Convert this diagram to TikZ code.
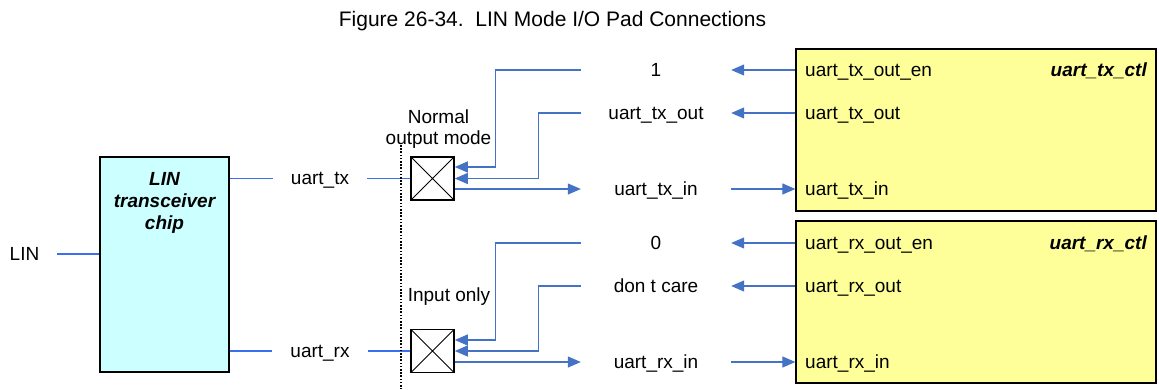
\documentclass[tikz,border=0pt]{standalone}
\usepackage{fontspec}
\setmainfont{Liberation Sans}
\usetikzlibrary{arrows.meta,calc}
\definecolor{sigblue}{HTML}{4472C4}
\definecolor{linkblue}{HTML}{3A6FF0}
\definecolor{chipcyan}{HTML}{CCFFFF}
\definecolor{ctlyellow}{HTML}{FFFF99}
\begin{document}
\begin{tikzpicture}[x=1pt,y=-1pt,
  txt/.style={font=\fontsize{19}{22}\selectfont, inner sep=0pt, text height=12pt, text depth=0pt},
  bitxt/.style={txt, font=\bfseries\itshape\fontsize{19}{22}\selectfont},
  sig/.style={draw=sigblue, line width=1.2pt},
  sigarrow/.style={sig, -{Triangle[length=13pt,width=11pt]}},
  link/.style={draw=linkblue, line width=1.2pt},
  chipbox/.style={draw=black, line width=1.3pt, fill=chipcyan, minimum width=129pt, minimum height=215pt, inner sep=0pt},
  ctlbox/.style={draw=black, line width=1.3pt, fill=ctlyellow, minimum width=360pt, minimum height=162pt, inner sep=0pt},
  padbox/.style={draw=black, line width=1.6pt, fill=white, minimum size=43pt, inner sep=0pt,
    path picture={\draw[line width=0.9pt] (path picture bounding box.north west) -- (path picture bounding box.south east)
      (path picture bounding box.north east) -- (path picture bounding box.south west);}},
  midlbl/.style={txt, minimum width=150pt},
  wirelbl/.style={txt, outer xsep=18pt},
  divider/.style={draw=black, line width=2pt, dash pattern=on 1.6pt off 1.6pt},
]
\useasboundingbox (0,0) rectangle (1159,389);

% title
\node[txt, font=\fontsize{21}{24}\selectfont, text height=14pt] (title) at (552.5,19) {Figure 26-34.\ \ LIN Mode I/O Pad Connections};

% LIN chip
\node[chipbox] (chip) at (164.5,264.5) {};
\node[font=\bfseries\itshape\fontsize{19}{22}\selectfont, inner sep=0pt, align=center] (chiplbl) at (164.5,202.5) {LIN\\transceiver\\chip};
\node[wirelbl] (lin) at (24.5,254) {LIN};
\draw[link] (lin.east) -- (chip.west |- lin.east);

% pads
\node[padbox] (txX) at (432.5,178.5) {};
\node[padbox] (rxX) at (432.5,351) {};

\node[wirelbl] (txw) at (320,178.5) {uart\_tx};
\node[wirelbl] (rxw) at (320,351) {uart\_rx};
\draw[link] (chip.east |- txw.west) -- (txw.west);
\draw[link] (txw.east) -- (txX.west |- txw.east);
\draw[link] (chip.east |- rxw.west) -- (rxw.west);
\draw[link] (rxw.east) -- (rxX.west |- rxw.east);

% divider
\coordinate (dtop) at (401,145);
\coordinate (dbot) at (401,389);
\draw[divider] (dtop) -- (dbot);

\node[align=center, inner sep=0pt, font=\fontsize{19}{21}\selectfont] (normal) at (438.5,129) {Normal\\output mode};
\node[txt] (inonly) at (449,295) {Input only};

% control boxes
\node[ctlbox] (ytx) at (976,130) {};
\node[ctlbox] (yrx) at (976,302) {};
\node[bitxt, anchor=east] (txctl) at (1147,70) {uart\_tx\_ctl};
\node[bitxt, anchor=east] (rxctl) at (1147,243) {uart\_rx\_ctl};

\node[txt, anchor=west] (ptxen) at (805,70) {uart\_tx\_out\_en};
\node[txt, anchor=west] (ptxout) at (805,113) {uart\_tx\_out};
\node[txt, anchor=west] (ptxin) at (805,189) {uart\_tx\_in};
\node[txt, anchor=west] (prxen) at (805,243) {uart\_rx\_out\_en};
\node[txt, anchor=west] (prxout) at (805,286) {uart\_rx\_out};
\node[txt, anchor=west] (prxin) at (805,362) {uart\_rx\_in};

% middle labels
\node[midlbl] (one) at (656,70) {1};
\node[midlbl] (txout) at (656,113) {uart\_tx\_out};
\node[midlbl] (txin) at (656,189) {uart\_tx\_in};
\node[midlbl] (zero) at (656,243) {0};
\node[midlbl] (dc) at (656,286) {don t care};
\node[midlbl] (rxin) at (656,362) {uart\_rx\_in};

% tx connections
\draw[sigarrow] (one.west) -- ++(-85,0) |- ($(txX.east)+(0,-11.5)$);
\draw[sigarrow] (txout.west) -- ++(-42,0) |- (txX.east);
\draw[sigarrow] (txX.east |- txin.west) -- (txin.west);
\draw[sigarrow] (ytx.west |- one.east) -- (one.east);
\draw[sigarrow] (ytx.west |- txout.east) -- (txout.east);
\draw[sigarrow] (txin.east) -- (ytx.west |- txin.east);

% rx connections
\draw[sigarrow] (zero.west) -- ++(-85,0) |- ($(rxX.east)+(0,-11)$);
\draw[sigarrow] (dc.west) -- ++(-42,0) |- (rxX.east);
\draw[sigarrow] (rxX.east |- rxin.west) -- (rxin.west);
\draw[sigarrow] (yrx.west |- zero.east) -- (zero.east);
\draw[sigarrow] (yrx.west |- dc.east) -- (dc.east);
\draw[sigarrow] (rxin.east) -- (yrx.west |- rxin.east);
\end{tikzpicture}
\end{document}
